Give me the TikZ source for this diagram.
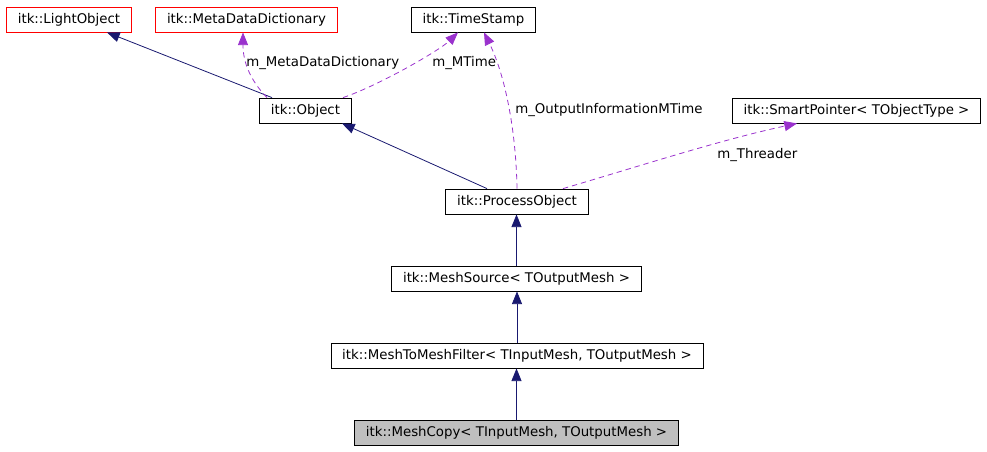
\documentclass[tikz,border=0pt]{standalone}
\usepackage{fontspec}
\setmainfont{DejaVu Sans}
\usetikzlibrary{arrows.meta}
\usetikzlibrary{calc}
\tikzset{>={Triangle[length=9.5pt,width=7.5pt]}}
\definecolor{inhblue}{HTML}{191970}
\definecolor{usepurple}{HTML}{9A32CD}
\definecolor{refgray}{HTML}{BFBFBF}
\tikzset{
  cls/.style={draw, rectangle, line width=0.6pt, minimum height=18.75pt, inner xsep=8.5pt, inner ysep=0pt, font=\fontsize{10}{12}\selectfont},
  ext/.style={cls, draw=red},
  inh/.style={->, draw=inhblue, line width=0.6pt},
  usedby/.style={->, draw=usepurple, line width=0.6pt, dash pattern=on 4pt off 3pt},
  lbl/.style={anchor=west, inner sep=0pt, font=\fontsize{10}{12}\selectfont},
}

\begin{document}
\begin{tikzpicture}[x=0.75pt, y=-0.75pt]
      \useasboundingbox (0,0) rectangle (987,451);
      \node[ext] (light) at (69, 19.5) {itk::LightObject};
      \node[ext] (meta) at (246.5, 19.5) {itk::MetaDataDictionary};
      \node[cls] (stamp) at (473.5, 19.5) {itk::TimeStamp};
      \node[cls] (obj) at (305.5, 110.5) {itk::Object};
      \node[cls] (smart) at (856.5, 110.5) {itk::SmartPointer< TObjectType >};
      \node[cls] (proc) at (517, 201.5) {itk::ProcessObject};
      \node[cls] (source) at (516.5, 278.5) {itk::MeshSource< TOutputMesh >};
      \node[cls] (filter) at (517, 355.5) {itk::MeshToMeshFilter< TInputMesh, TOutputMesh >};
      \node[cls, fill=refgray] (copy) at (516.5, 433) {itk::MeshCopy< TInputMesh, TOutputMesh >};
      \draw[inh] ($(obj.north)+(-33.5,0)$) -- ($(light.south)+(38,0)$);
      \draw[inh] ($(proc.north)+(-30,0)$) -- ($(obj.south)+(36.5,0)$);
      \draw[inh] (copy.north) -- (copy.north |- filter.south);
      \draw[inh] (filter.north) -- (filter.north |- source.south);
      \draw[inh] (source.north) -- (source.north |- proc.south);
      \draw[usedby] ($(obj.north)+(-38.5,0)$) .. controls (250, 80) and (243, 62) .. ($(meta.south)+(-3.5,0)$);
      \draw[usedby] ($(obj.north)+(37.5,0)$) .. controls (380, 85) and (440, 50) .. ($(stamp.south)+(-15.5,0)$);
      \draw[usedby] (proc.north) .. controls (516, 130) and (505, 75) .. ($(stamp.south)+(10.5,0)$);
      \draw[usedby] ($(proc.north)+(46,0)$) .. controls (640, 166) and (720, 140) .. ($(smart.south)+(-59.5,0)$);
      \node[lbl] (lmeta) at (246, 63) {m\_MetaDataDictionary};
      \node[lbl] (lmtime) at (432, 63) {m\_MTime};
      \node[lbl] (lout) at (515, 110) {m\_OutputInformationMTime};
      \node[lbl] (lthr) at (717, 155) {m\_Threader};
    \end{tikzpicture}
\end{document}
